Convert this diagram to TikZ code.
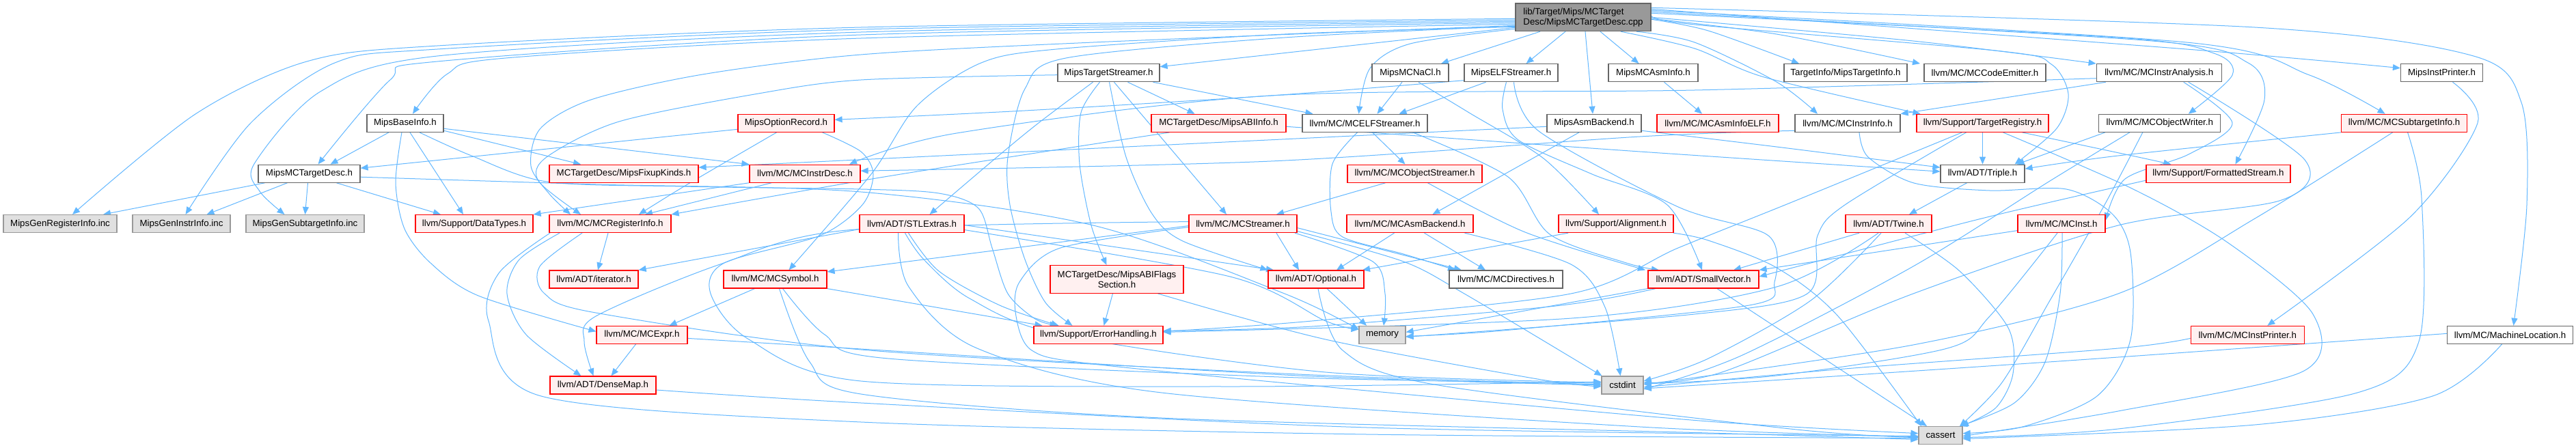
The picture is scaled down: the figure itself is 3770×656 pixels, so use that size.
\documentclass[tikz,border=0pt]{standalone}
\usepackage{fontspec}
\setmainfont{Liberation Sans}
\usetikzlibrary{arrows.meta}
\definecolor{edgeblue}{HTML}{63B8FF}
\definecolor{redfillc}{HTML}{FFF0F0}
\definecolor{grayfillc}{HTML}{E0E0E0}
\definecolor{rootc}{HTML}{999999}
\definecolor{gray40c}{HTML}{666666}
\definecolor{gray60c}{HTML}{999999}
\definecolor{redc}{HTML}{FF0000}
\newcommand{\nfont}{\fontsize{13.3pt}{15pt}\selectfont}
\pgfdeclarelayer{paper}
\pgfdeclarelayer{bg}
\pgfsetlayers{paper,bg,main}
\tikzset{
  base/.style={rectangle, inner sep=0pt, minimum height=26pt, line width=1.2pt, font=\nfont, text=black},
  wnode/.style={base, draw=gray40c, fill=white},
  rnode/.style={base, draw=redc, fill=redfillc},
  gnode/.style={base, draw=gray60c, fill=grayfillc},
  edg/.style={draw=edgeblue, line width=1pt, -{Triangle[length=11pt,width=9pt]}, fill=none},
}
\begin{document}
\begin{tikzpicture}[x=1pt, y=-1pt]
\useasboundingbox (0,0) rectangle (3770,656);
\begin{pgfonlayer}{paper}
\fill[white] (0,0) rectangle (3770,656);
\end{pgfonlayer}
% row 0
\node[base, draw=gray40c, fill=rootc, minimum width=198pt, minimum height=40.6pt, align=left] (root) at (2317,25.3) {lib/Target/Mips/MCTarget\\Desc/MipsMCTargetDesc.cpp};
% row 1
\node[wnode, minimum width=149pt] (tstream) at (1622.5,106.7) {MipsTargetStreamer.h};
\node[wnode, minimum width=112pt] (nacl) at (2064,106.7) {MipsMCNaCl.h};
\node[wnode, minimum width=137pt] (elfs) at (2211.5,106.7) {MipsELFStreamer.h};
\node[wnode, minimum width=131pt] (asminfo) at (2419.5,106.7) {MipsMCAsmInfo.h};
\node[wnode, minimum width=180pt] (tinfo) at (2701,106.7) {TargetInfo/MipsTargetInfo.h};
\node[wnode, minimum width=178pt] (codeemit) at (2905,106.7) {llvm/MC/MCCodeEmitter.h};
\node[wnode, minimum width=183pt] (instran) at (3159.7,106.7) {llvm/MC/MCInstrAnalysis.h};
\node[wnode, minimum width=120pt] (instprn) at (3573.5,106.7) {MipsInstPrinter.h};
% row 2
\node[wnode, minimum width=112pt] (baseinfo) at (593,180.3) {MipsBaseInfo.h};
\node[rnode, minimum width=141pt] (optrec) at (1150.5,180.3) {MipsOptionRecord.h};
\node[rnode, minimum width=197pt] (abiinfo) at (1783.5,180.3) {MCTargetDesc/MipsABIInfo.h};
\node[wnode, minimum width=183pt] (mcelf) at (1997.5,180.3) {llvm/MC/MCELFStreamer.h};
\node[wnode, minimum width=138pt] (asmback) at (2333,180.3) {MipsAsmBackend.h};
\node[rnode, minimum width=178pt] (asminfoelf) at (2514,180.3) {llvm/MC/MCAsmInfoELF.h};
\node[wnode, minimum width=154pt] (instrinfo) at (2704,180.3) {llvm/MC/MCInstrInfo.h};
\node[rnode, minimum width=193pt] (treg) at (2901.5,180.3) {llvm/Support/TargetRegistry.h};
\node[wnode, minimum width=178pt] (objw) at (3160.8,180.3) {llvm/MC/MCObjectWriter.h};
\node[rnode, minimum width=184pt] (subti) at (3518.6,180.3) {llvm/MC/MCSubtargetInfo.h};
% row 3
\node[wnode, minimum width=149pt] (mctd) at (452.5,254.2) {MipsMCTargetDesc.h};
\node[rnode, minimum width=218pt] (fixup) at (913,254.2) {MCTargetDesc/MipsFixupKinds.h};
\node[rnode, minimum width=162pt] (instrdesc) at (1178,254.2) {llvm/MC/MCInstrDesc.h};
\node[rnode, minimum width=197pt] (objstr) at (2070.5,254.2) {llvm/MC/MCObjectStreamer.h};
\node[wnode, minimum width=123pt] (triple) at (2901.5,254.2) {llvm/ADT/Triple.h};
\node[rnode, minimum width=211pt] (fstream) at (3246.4,254.2) {llvm/Support/FormattedStream.h};
% row 4
\node[gnode, minimum width=166pt] (genreg) at (88,327.6) {MipsGenRegisterInfo.inc};
\node[gnode, minimum width=143pt] (geninstr) at (265.5,327.6) {MipsGenInstrInfo.inc};
\node[gnode, minimum width=173pt] (gensub) at (446.5,327.6) {MipsGenSubtargetInfo.inc};
\node[rnode, minimum width=172pt] (datatypes) at (694,327.6) {llvm/Support/DataTypes.h};
\node[rnode, minimum width=178pt] (reginfo) at (893,327.6) {llvm/MC/MCRegisterInfo.h};
\node[rnode, minimum width=153pt] (stlextras) at (1334.5,327.6) {llvm/ADT/STLExtras.h};
\node[rnode, minimum width=158pt] (streamer) at (1819,327.6) {llvm/MC/MCStreamer.h};
\node[rnode, minimum width=185pt] (mcasmback) at (2063.5,327.6) {llvm/MC/MCAsmBackend.h};
\node[rnode, minimum width=168pt] (align) at (2365,327.6) {llvm/Support/Alignment.h};
\node[rnode, minimum width=126pt] (twine) at (2764,327.6) {llvm/ADT/Twine.h};
\node[rnode, minimum width=128pt] (mcinst) at (3017,327.6) {llvm/MC/MCInst.h};
% row 5
\node[rnode, minimum width=130pt] (iter) at (869,409) {llvm/ADT/iterator.h};
\node[rnode, minimum width=151pt] (symbol) at (1134.5,409) {llvm/MC/MCSymbol.h};
\node[rnode, minimum width=195pt, minimum height=40.6pt, align=center] (abiflags) at (1634.5,409) {MCTargetDesc/MipsABIFlags\\Section.h};
\node[rnode, minimum width=140pt] (optional) at (1926,409) {llvm/ADT/Optional.h};
\node[wnode, minimum width=166pt] (directives) at (2204,409) {llvm/MC/MCDirectives.h};
\node[rnode, minimum width=162pt] (smallvec) at (2493,409) {llvm/ADT/SmallVector.h};
% row 6
\node[rnode, minimum width=133pt] (expr) at (939.5,490.4) {llvm/MC/MCExpr.h};
\node[rnode, minimum width=189pt] (errh) at (1607.5,490.4) {llvm/Support/ErrorHandling.h};
\node[gnode, minimum width=68pt] (memory) at (2023,490.4) {memory};
\node[rnode, minimum width=166pt] (mcinstprn) at (3289.3,490.4) {llvm/MC/MCInstPrinter.h};
\node[wnode, minimum width=184pt] (machloc) at (3673.5,490.4) {llvm/MC/MachineLocation.h};
% row 7
\node[rnode, minimum width=155pt] (densemap) at (882.5,564) {llvm/ADT/DenseMap.h};
\node[gnode, minimum width=61pt] (cstdint) at (2374.5,564) {cstdint};
% row 8
\node[gnode, minimum width=64pt] (cassert) at (2840,637.6) {cassert};

\begin{pgfonlayer}{bg}
% ---- root edges
\draw[edg] plot[smooth] coordinates {([yshift=-2pt]root.west) (1260,40) (640,67) (449,90) (286,167) ([xshift=18pt]genreg.north)};
\draw[edg] plot[smooth] coordinates {([yshift=-4pt]root.west) (1260,43) (640,72) (490,92) (367,180) ([xshift=6pt]geninstr.north)};
\draw[edg] plot[smooth] coordinates {([yshift=-6pt]root.west) (1260,47) (640,82) (469,134) (372,240) (380,280) ([xshift=-30pt]gensub.north)};
\draw[edg] plot[smooth] coordinates {([yshift=-8pt]root.west) (1260,51) (640,90) (571,117) ([xshift=13pt]mctd.north)};
\draw[edg] plot[smooth] coordinates {([yshift=-10pt]root.west) (1260,56) (740,85) (655,108) ([xshift=11pt]baseinfo.north)};
\draw[edg] plot[smooth] coordinates {([yshift=-12pt]root.west) (1600,62) (1260,80) (1028,109) (865,146) (791,188) (777,243) (804,284) ([xshift=-58pt]reginfo.north)};
\draw[edg] ([yshift=-15pt]root.west) -- ([yshift=9pt]tstream.east);
\draw[edg] plot[smooth] coordinates {([yshift=-14pt]root.west) (1880,50) (1546,72) (1436,92) (1342,155) (1275,255) ([xshift=20pt]symbol.north)};
\draw[edg] plot[smooth] coordinates {([yshift=-13pt]root.west) (1880,55) (1560,85) (1500,130) (1475,230) (1478,300) (1500,380) (1530,443) ([xshift=-38pt]errh.north)};
\draw[edg] plot[smooth] coordinates {([yshift=-17pt]root.west) (2064,64) (2005,100) ([xshift=-9pt]mcelf.north)};
\draw[edg] ([xshift=-63pt]root.south) -- ([xshift=45pt]nacl.north);
\draw[edg] ([xshift=-26pt]root.south) -- ([xshift=22pt]elfs.north);
\draw[edg] ([xshift=3pt]root.south) -- ([xshift=-2pt]asmback.north);
\draw[edg] ([xshift=25pt]root.south) -- ([xshift=-21pt]asminfo.north);
\draw[edg] plot[smooth] coordinates {([xshift=55pt]root.south) (2480,71) (2582,113) ([xshift=-91pt]treg.north)};
\draw[edg] plot[smooth] coordinates {([xshift=78pt]root.south) (2480,62) (2600,120) ([xshift=-44pt]instrinfo.north)};
\draw[edg] plot[smooth] coordinates {([yshift=-3pt]root.east) (2500,45) ([xshift=-68pt]tinfo.north)};
\draw[edg] plot[smooth] coordinates {([yshift=-2pt]root.east) (2600,50) ([xshift=-95pt]codeemit.north)};
\draw[edg] plot[smooth] coordinates {(root.east) (2800,60) (instran.north west)};
\draw[edg] plot[smooth] coordinates {([yshift=3pt]root.east) (2480,36) (2929,75) (3002,94) (3027,138) (3010,188) ([xshift=47pt]triple.north)};
\draw[edg] plot[smooth] coordinates {([yshift=6pt]root.east) (3100,55) (3240,78) (3267,110) ([xshift=42pt]objw.north)};
\draw[edg] plot[smooth] coordinates {([yshift=8pt]root.east) (3150,60) (3290,92) (3314,146) ([xshift=25pt]fstream.north)};
\draw[edg] plot[smooth] coordinates {([yshift=10pt]root.east) (3200,62) (3380,110) ([xshift=-28pt]subti.north)};
\draw[edg] plot[smooth] coordinates {([yshift=12pt]root.east) (3200,72) ([yshift=7pt]instprn.west)};
\draw[edg] plot[smooth] coordinates {([yshift=14pt]root.east) (3300,40) (3620,82) (3690,150) (3698,300) ([xshift=5pt]machloc.north)};
% ---- MipsMCTargetDesc.h
\draw[edg] ([xshift=-65pt]mctd.south) -- ([xshift=63pt]genreg.north);
\draw[edg] ([xshift=-32pt]mctd.south) -- ([xshift=37pt]geninstr.north);
\draw[edg] ([xshift=-2pt]mctd.south) -- (gensub.north);
\draw[edg] ([xshift=40pt]mctd.south) -- ([xshift=-49pt]datatypes.north);
\draw[edg] plot[smooth] coordinates {([yshift=-5pt]mctd.east) (872,270) (1260,281) (1600,330) (1880,430) ([yshift=8pt]memory.west)};
% ---- MipsBaseInfo.h
\draw[edg] ([xshift=-24pt]baseinfo.south) -- ([xshift=31pt]mctd.north);
\draw[edg] ([xshift=7pt]baseinfo.south) -- ([xshift=-16pt]datatypes.north);
\draw[edg] plot[smooth] coordinates {([xshift=-5pt]baseinfo.south) (579,268) (592,335) (630,385) (700,433) ([yshift=5pt]expr.west)};
\draw[edg] ([yshift=-11pt]baseinfo.east) -- ([xshift=-63pt]fixup.north);
\draw[edg] ([yshift=-8pt]baseinfo.east) -- (instrdesc.north west);
\draw[edg] plot[smooth] coordinates {([xshift=21pt]baseinfo.south) (690,228) (800,266) (1000,273) (1260,277) (1374,283) (1432,305) (1452,363) (1475,430) (1515,467) ([xshift=-60pt]errh.north)};
% ---- MipsOptionRecord.h
\draw[edg] ([yshift=-9pt]optrec.west) -- ([yshift=8pt]mctd.east);
\draw[edg] plot[smooth] coordinates {([xshift=-14pt]optrec.south) (1006,270) ([xshift=42pt]reginfo.north)};
\draw[edg] plot[smooth] coordinates {([xshift=53pt]optrec.south) (1260,222) (1278,255) (1262,300) (1200,345) (1060,385) (1040,430) (1096,497) (1260,558) (1800,566) ([yshift=5pt]cstdint.west)};
% ---- MipsTargetStreamer.h
\draw[edg] plot[smooth] coordinates {([yshift=-3pt]tstream.west) (1260,117) (1110,137) (906,178) (800,230) (788,265) ([xshift=-43pt]reginfo.north)};
\draw[edg] plot[smooth] coordinates {([xshift=-23pt]tstream.south) (1520,180) (1459,230) ([xshift=26pt]stlextras.north)};
\draw[edg] plot[smooth] coordinates {([xshift=-13pt]tstream.south) (1582,165) (1580,240) (1597,330) ([xshift=-15pt]abiflags.north)};
\draw[edg] plot[smooth] coordinates {([xshift=1pt]tstream.south) (1648,230) (1686,313) (1731,353) (optional.north west)};
\draw[edg] ([xshift=8pt]tstream.south) -- ([xshift=-24pt]streamer.north);
\draw[edg] ([xshift=28pt]tstream.south) -- ([xshift=-35pt]abiinfo.north);
\draw[edg] ([xshift=65pt]tstream.south) -- ([xshift=-76pt]mcelf.north);
% ---- MipsMCNaCl.h
\draw[edg] ([xshift=-12pt]nacl.south) -- ([xshift=18pt]mcelf.north);
\draw[edg] plot[smooth] coordinates {([xshift=12pt]nacl.south) (2150,165) (2259,232) ([xshift=-25pt]align.north)};
% ---- MipsELFStreamer.h
\draw[edg] plot[smooth] coordinates {([yshift=-11pt]elfs.west) (1860,140) (1500,162) ([yshift=5pt]optrec.east)};
\draw[edg] ([xshift=-37pt]elfs.south) -- ([xshift=50pt]mcelf.north);
\draw[edg] plot[smooth] coordinates {([xshift=-7pt]elfs.south) (2199,160) (2222,205) (2330,255) (2440,300) ([xshift=-2pt]smallvec.north)};
\draw[edg] plot[smooth] coordinates {([xshift=4pt]elfs.south) (2252,192) (2456,303) (2588,345) (2597,413) (2560,447) (2200,484) ([yshift=-2pt]memory.east)};
% ---- MipsMCAsmInfo.h
\draw[edg] ([xshift=16pt]asminfo.south) -- ([xshift=-23pt]asminfoelf.north);
% ---- MipsAsmBackend.h
\draw[edg] ([yshift=-5pt]asmback.west) -- ([yshift=9pt]fixup.east);
\draw[edg] ([xshift=-22pt]asmback.south) -- ([xshift=33pt]mcasmback.north);
\draw[edg] plot[smooth] coordinates {([yshift=-11pt]asmback.east) (2600,215) ([yshift=9pt]triple.west)};
% ---- MCInstrInfo.h
\draw[edg] plot[smooth] coordinates {([yshift=-11pt]instrinfo.west) (2400,200) (1860,236) ([yshift=4pt]instrdesc.east)};
\draw[edg] plot[smooth] coordinates {([xshift=17pt]instrinfo.south) (2734,230) (2801,268) (2912,279) (3024,277) (3091,313) (3118,370) (3118,497) (3069,580) (2960,625) ([yshift=3pt]cassert.east)};
% ---- TargetRegistry.h
\draw[edg] (treg.south) -- (triple.north);
\draw[edg] plot[smooth] coordinates {([xshift=-30pt]treg.south) (2620,297) (2456,363) (2299,430) (1920,470) ([yshift=5pt]errh.east)};
\draw[edg] plot[smooth] coordinates {([xshift=-24pt]treg.south) (2700,300) (2660,345) (2645,430) (2480,460) ([yshift=-3pt]memory.east)};
\draw[edg] plot[smooth] coordinates {([xshift=30pt]treg.south) (3120,276) (3260,355) (3385,460) (3370,544) (3100,602) ([yshift=-1pt]cassert.east)};
\draw[edg] plot[smooth] coordinates {([xshift=58pt]treg.south) (3120,228) ([xshift=-69pt]fstream.north)};
% ---- MCInstrAnalysis.h
\draw[edg] ([xshift=-78pt]instran.south) -- (instrinfo.north east);
\draw[edg] plot[smooth] coordinates {([yshift=-8pt]instran.west) (2480,132) (1860,140) (1400,195) ([xshift=65pt]instrdesc.north)};
\draw[edg] plot[smooth] coordinates {([xshift=36pt]instran.south) (3267,180) (3203,226) (3110,262) ([yshift=5pt]mcinst.east)};
\draw[edg] plot[smooth] coordinates {([xshift=43pt]instran.south) (3373,234) (3339,293) (3100,330) (2800,430) (2520,545) ([yshift=4pt]cstdint.east)};
% ---- MCObjectWriter.h
\draw[edg] ([xshift=-80pt]objw.south) -- ([xshift=50pt]triple.north);
\draw[edg] plot[smooth] coordinates {([xshift=-44pt]objw.south) (3000,265) (2800,390) (2550,520) ([yshift=-6pt]cstdint.east)};
\draw[edg] plot[smooth] coordinates {([xshift=-25pt]objw.south) (3080,300) (3000,440) (2930,560) ([xshift=28pt]cassert.north)};
% ---- MCSubtargetInfo.h
\draw[edg] plot[smooth] coordinates {(subti.south west) (3100,228) ([yshift=7pt]triple.east)};
\draw[edg] plot[smooth] coordinates {([xshift=-17pt]subti.south) (3300,320) (3100,430) (2800,505) ([yshift=1pt]cstdint.east)};
\draw[edg] plot[smooth] coordinates {([xshift=5pt]subti.south) (3544,290) (3540,500) (3450,575) (3100,628) ([yshift=-3pt]cassert.east)};
% ---- MipsInstPrinter.h, MCInstPrinter.h, MachineLocation.h, FormattedStream.h
\draw[edg] plot[smooth] coordinates {([xshift=16pt]instprn.south) (3626,180) (3527,318) ([xshift=29pt]mcinstprn.north)};
\draw[edg] plot[smooth] coordinates {([yshift=-5pt]mcinstprn.west) (3100,510) (2700,540) ([yshift=-3pt]cstdint.east)};
\draw[edg] plot[smooth] coordinates {([yshift=2pt]machloc.west) (3100,523) (2700,550) ([yshift=-5pt]cstdint.east)};
\draw[edg] plot[smooth] coordinates {([xshift=-12pt]machloc.south) (3560,580) (3300,622) ([yshift=-5pt]cassert.east)};
\draw[edg] plot[smooth] coordinates {([yshift=-10pt]fstream.west) (2900,320) ([yshift=4pt]smallvec.east)};
% ---- Triple.h, Twine.h, MCInst.h
\draw[edg] ([xshift=-23pt]triple.south) -- ([xshift=30pt]twine.north);
\draw[edg] ([xshift=-43pt]twine.south) -- ([xshift=44pt]smallvec.north);
\draw[edg] plot[smooth] coordinates {([xshift=-15pt]twine.south) (2600,420) (2300,466) ([yshift=4pt]errh.east)};
\draw[edg] plot[smooth] coordinates {([xshift=-11pt]twine.south) (2650,440) (2500,525) ([yshift=6pt]cstdint.east)};
\draw[edg] plot[smooth] coordinates {([xshift=24pt]twine.south) (2868,397) (2939,480) (2946,547) (2921,597) ([xshift=30pt]cassert.north)};
\draw[edg] ([yshift=-10pt]mcinst.west) -- (smallvec.north east);
\draw[edg] plot[smooth] coordinates {([xshift=-6pt]mcinst.south) (2912,463) (2850,510) (2600,550) ([yshift=2pt]cstdint.east)};
\draw[edg] plot[smooth] coordinates {([xshift=1pt]mcinst.south) (3015,430) (2993,530) (2948,590) ([xshift=28pt]cassert.north)};
% ---- SmallVector.h, Alignment.h
\draw[edg] (smallvec.south west) -- ([yshift=4pt]memory.east);
\draw[edg] plot[smooth] coordinates {([xshift=-70pt]smallvec.south) (2277,448) (1920,478) ([yshift=6pt]errh.east)};
\draw[edg] ([xshift=20pt]smallvec.south) -- ([xshift=-20pt]cassert.north);
\draw[edg] ([xshift=-70pt]align.south) -- ([xshift=68pt]optional.north);
\draw[edg] plot[smooth] coordinates {([xshift=84pt]align.south) (2500,352) (2600,392) (2690,463) ([xshift=-28pt]cassert.north)};
% ---- MCAsmBackend.h, MCObjectStreamer.h, MCELFStreamer.h
\draw[edg] ([xshift=-23pt]mcasmback.south) -- ([xshift=30pt]optional.north);
\draw[edg] ([xshift=21pt]mcasmback.south) -- ([xshift=-30pt]directives.north);
\draw[edg] plot[smooth] coordinates {([xshift=80pt]mcasmback.south) (2299,387) (2349,450) ([xshift=-3pt]cstdint.north)};
\draw[edg] ([xshift=-43pt]objstr.south) -- ([xshift=49pt]streamer.north);
\draw[edg] plot[smooth] coordinates {([xshift=19pt]objstr.south) (2232,340) ([xshift=-85pt]smallvec.north)};
\draw[edg] ([xshift=11pt]mcelf.south) -- ([xshift=-14pt]objstr.north);
\draw[edg] plot[smooth] coordinates {([xshift=-11pt]mcelf.south) (1950,240) (1948,310) (1965,347) (2054,372) ([xshift=-74pt]directives.north)};
\draw[edg] plot[smooth] coordinates {([xshift=70pt]mcelf.south) (2207,259) (2268,343) (2380,385) ([xshift=-65pt]smallvec.north)};
% ---- MCStreamer.h
\draw[edg] ([xshift=49pt]streamer.south) -- ([xshift=-25pt]optional.north);
\draw[edg] ([yshift=-6pt]streamer.east) -- ([xshift=-65pt]directives.north);
\draw[edg] plot[smooth] coordinates {([xshift=76pt]streamer.south) (2009,383) (2027,430) ([xshift=2pt]memory.north)};
\draw[edg] plot[smooth] coordinates {([yshift=-11pt]streamer.east) (2054,383) (2143,430) ([xshift=-30pt]cstdint.north)};
\draw[edg] plot[smooth] coordinates {([yshift=-5pt]streamer.west) (1552,363) (1492,413) (1487,463) (1510,513) (1600,533) (2000,572) (2500,617) ([yshift=3pt]cassert.west)};
\draw[edg] ([yshift=-3pt]streamer.west) -- ([yshift=11pt]symbol.east);
\draw[edg] plot[smooth] coordinates {([yshift=3pt]streamer.west) (1240,337) (1051,388) (872,463) (855,500) ([xshift=-14pt]densemap.north)};
% ---- STLExtras.h
\draw[edg] ([yshift=-8pt]stlextras.west) -- (iter.north east);
\draw[edg] ([yshift=-2pt]stlextras.east) -- ([xshift=-62pt]optional.north);
\draw[edg] plot[smooth] coordinates {([yshift=-9pt]stlextras.east) (1800,405) (1940,470) ([yshift=8pt]memory.west)};
\draw[edg] plot[smooth] coordinates {([xshift=-5pt]stlextras.south) (1374,397) (1463,447) ([xshift=-58pt]errh.north)};
\draw[edg] plot[smooth] coordinates {([xshift=-10pt]stlextras.south) (1352,380) (1419,437) (1552,490) (1940,545) ([yshift=4pt]cstdint.west)};
\draw[edg] plot[smooth] coordinates {([xshift=-20pt]stlextras.south) (1330,420) (1430,510) (1700,575) (2400,625) ([yshift=-2pt]cassert.west)};
% ---- MCRegisterInfo.h
\draw[edg] ([xshift=-3pt]reginfo.south) -- ([xshift=6pt]iter.north);
\draw[edg] plot[smooth] coordinates {([xshift=-74pt]reginfo.south) (760,380) (742,430) (770,490) ([xshift=-32pt]densemap.north)};
\draw[edg] plot[smooth] coordinates {([xshift=-41pt]reginfo.south) (790,390) (797,430) (872,458) (1260,512) (1900,548) ([yshift=1pt]cstdint.west)};
\draw[edg] plot[smooth] coordinates {([xshift=-88pt]reginfo.south) (730,400) (715,470) (792,580) (1260,618) (2000,636) ([yshift=-4pt]cassert.west)};
% ---- MCSymbol.h, MCExpr.h, DenseMap.h
\draw[edg] ([xshift=-30pt]symbol.south) -- ([xshift=40pt]expr.north);
\draw[edg] (symbol.south east) -- ([xshift=-82pt]errh.north);
\draw[edg] plot[smooth] coordinates {([xshift=6pt]symbol.south) (1185,530) (1260,577) (1700,612) (2500,634) ([yshift=-6pt]cassert.west)};
\draw[edg] plot[smooth] coordinates {([xshift=11pt]symbol.south) (1207,490) (1300,525) (1900,553) ([yshift=3pt]cstdint.west)};
\draw[edg] ([xshift=-9pt]expr.south) -- ([xshift=12pt]densemap.north);
\draw[edg] plot[smooth] coordinates {([yshift=-5pt]expr.east) (1260,511) (1900,550) (cstdint.west)};
\draw[edg] plot[smooth] coordinates {([yshift=-7pt]densemap.east) (1260,590) (2000,626) ([yshift=-1pt]cassert.west)};
% ---- ABIFlagsSection, ABIInfo, Optional, InstrDesc
\draw[edg] ([xshift=-6pt]abiflags.south) -- ([xshift=8pt]errh.north);
\draw[edg] plot[smooth] coordinates {([xshift=60pt]abiflags.south) (1940,497) (2250,555) ([yshift=-2pt]cstdint.west)};
\draw[edg] plot[smooth] coordinates {([xshift=-72pt]abiinfo.south) (1300,258) (reginfo.north east)};
\draw[edg] plot[smooth] coordinates {([yshift=-5pt]abiinfo.east) (2400,222) ([yshift=3pt]triple.west)};
\draw[edg] ([xshift=16pt]optional.south) -- ([xshift=-23pt]memory.north);
\draw[edg] plot[smooth] coordinates {([xshift=3pt]optional.south) (1965,513) (2099,563) (2620,628) ([yshift=-3pt]cassert.west)};
\draw[edg] ([xshift=-49pt]instrdesc.south) -- ([xshift=51pt]reginfo.north);
\draw[edg] ([xshift=-82pt]instrdesc.south) -- (datatypes.north east);
\end{pgfonlayer}
\end{tikzpicture}
\end{document}
